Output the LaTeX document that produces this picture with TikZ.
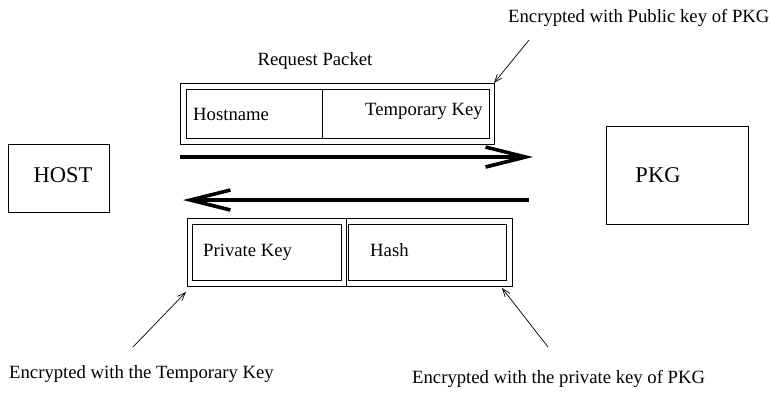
\documentclass[tikz,border=0pt]{standalone}
\usepackage{fontspec}
\setmainfont{Liberation Serif}
\usetikzlibrary{arrows.meta}
\begin{document}
\begin{tikzpicture}[x=1pt,y=-1pt,
  box/.style={draw, line width=0.8pt, inner sep=0pt, outer sep=0pt, anchor=north west},
  lbl/.style={inner sep=0pt, font=\fontsize{18.7}{22}\selectfont},
  big/.style={inner sep=0pt, font=\fontsize{22.5}{26}\selectfont},
  flow/.style={line width=3.6pt, -{Straight Barb[length=40pt,width=20pt]}},
  pointer/.style={line width=0.7pt, -{Straight Barb[length=8pt,width=6pt]}}]
\useasboundingbox (0,0) rectangle (772,392);

% end points
\node[box, minimum width=101pt, minimum height=68pt] (host) at (8,144) {};
\node[big, anchor=base] (hostlbl) at (63,182) {HOST};
\node[box, minimum width=142pt, minimum height=98pt] (pkg) at (606,126) {};
\node[big, anchor=base] (pkglbl) at (658,182) {PKG};

% request packet
\node[lbl, anchor=base] (reqlbl) at (315,65) {Request Packet};
\node[box, minimum width=314pt, minimum height=61pt] (req) at (180,83) {};
\node[box, minimum width=136pt, minimum height=49pt] (hcell) at (186,89) {};
\node[box, minimum width=167pt, minimum height=49pt] (kcell) at (322,89) {};
\node[lbl, anchor=base west] (hname) at (193,120) {Hostname};
\node[lbl, anchor=base east] (tkey) at (483,115) {Temporary Key};

% response packet
\node[box, minimum width=159pt, minimum height=68pt] (resp1) at (187,218) {};
\node[box, minimum width=166pt, minimum height=68pt] (resp2) at (346,218) {};
\node[box, minimum width=149pt, minimum height=56pt] (pcell) at (192,224) {};
\node[box, minimum width=158pt, minimum height=56pt] (hacell) at (348,224) {};
\node[lbl, anchor=base west] (pkey) at (203,256) {Private Key};
\node[lbl, anchor=base west] (hash) at (370,256) {Hash};

% message flows
\coordinate (f1s) at (180,157);
\coordinate (f1e) at (533,157);
\coordinate (f2s) at (529,200);
\coordinate (f2e) at (183,200);
\draw[flow] (f1s) -- (f1e);
\draw[flow] (f2s) -- (f2e);

% annotations
\node[lbl, anchor=base west] (encpub) at (508,22) {Encrypted with Public key of PKG};
\node[lbl, anchor=base west] (enctmp) at (9,378) {Encrypted with the Temporary Key};
\node[lbl, anchor=base west] (encpriv) at (412,383) {Encrypted with the private key of PKG};
\coordinate (a1) at (529,40);
\coordinate (a2) at (133,347);
\coordinate (a2t) at (186,292);
\coordinate (a3) at (548,347);
\coordinate (a3t) at (502,288);
\draw[pointer] (a1) -- (req.north east);
\draw[pointer] (a2) -- (a2t);
\draw[pointer] (a3) -- (a3t);
\end{tikzpicture}
\end{document}
